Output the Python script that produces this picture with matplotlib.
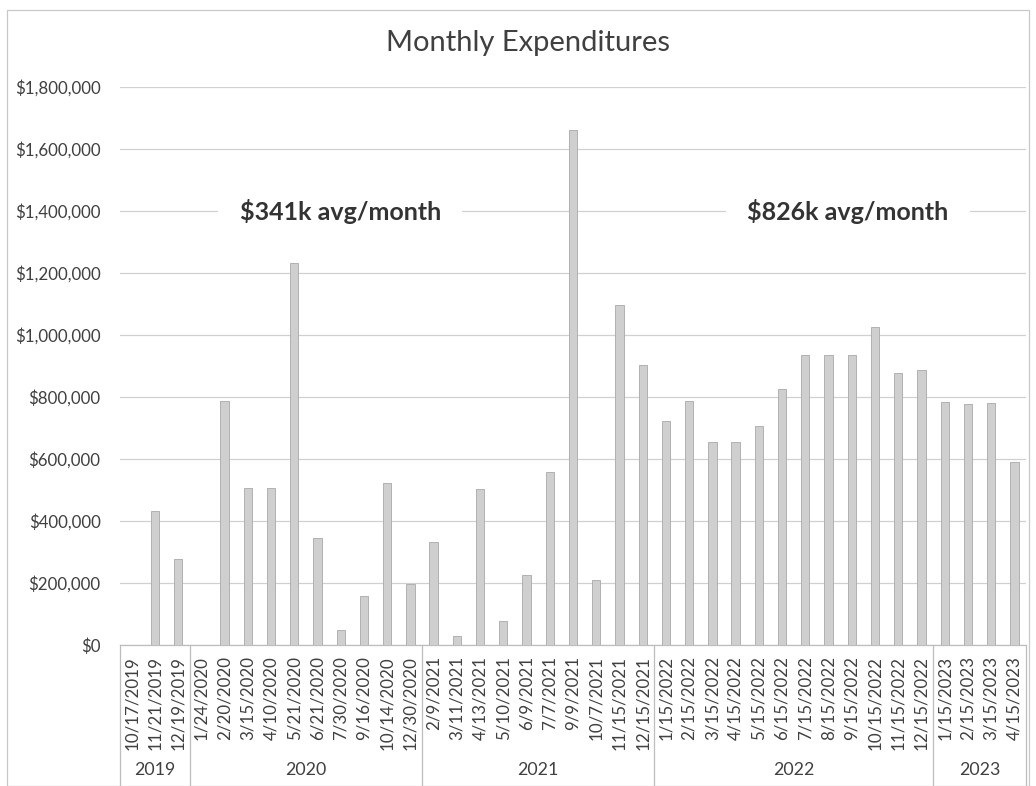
import matplotlib
matplotlib.use("Agg")
import matplotlib.pyplot as plt
from matplotlib.patches import Rectangle

plt.rcParams['font.family'] = ['Lato', 'DejaVu Sans']

dates = ["10/17/2019", "11/21/2019", "12/19/2019",
         "1/24/2020", "2/20/2020", "3/15/2020", "4/10/2020", "5/21/2020", "6/21/2020",
         "7/30/2020", "9/16/2020", "10/14/2020", "12/30/2020",
         "2/9/2021", "3/11/2021", "4/13/2021", "5/10/2021", "6/9/2021", "7/7/2021",
         "9/9/2021", "10/7/2021", "11/15/2021", "12/15/2021",
         "1/15/2022", "2/15/2022", "3/15/2022", "4/15/2022", "5/15/2022", "6/15/2022",
         "7/15/2022", "8/15/2022", "9/15/2022", "10/15/2022", "11/15/2022", "12/15/2022",
         "1/15/2023", "2/15/2023", "3/15/2023", "4/15/2023"]
expenditures = [0, 432000, 278000,
                0, 788000, 507000, 507000, 1231000, 346000,
                49000, 157000, 523000, 198000,
                332000, 28000, 503000, 78000, 225000, 557000,
                1661000, 209000, 1096000, 904000,
                721000, 788000, 655000, 655000, 708000, 826000,
                935000, 935000, 935000, 1027000, 876000, 887000,
                784000, 776000, 780000, 591000]
years = ["2019", "2020", "2021", "2022", "2023"]
year_counts = [3, 10, 10, 12, 4]
annotations = ["$341k avg/month", "$826k avg/month"]

TXT = "#404040"
GRID = "#d0d0d0"

fig = plt.figure(figsize=(10.36, 7.86), dpi=100)
ax = fig.add_axes([120/1036, 1-645/786, 906/1036, 558/786])

x = list(range(len(dates)))
ax.bar(x, expenditures, width=0.36, color="#cfcfcf", edgecolor="#a9a9a9", linewidth=0.6, zorder=3)

ax.set_xlim(-0.5, len(dates) - 0.5)
ax.set_ylim(0, 1800000)
ax.set_yticks(range(0, 1800001, 200000))
ax.set_yticklabels([f"${v:,.0f}" for v in range(0, 1800001, 200000)])
ax.yaxis.grid(True, color=GRID, linewidth=0.9, zorder=0)
ax.set_xticks(x)
ax.set_xticklabels(dates, rotation=90, va="top", ha="center")
ax.tick_params(axis="both", length=0, colors=TXT, labelsize=12.2)
ax.tick_params(axis="y", pad=14)
ax.tick_params(axis="x", pad=8)
for s in ["top", "right", "left"]:
    ax.spines[s].set_visible(False)
ax.spines["bottom"].set_color("#bdbdbd")
ax.spines["bottom"].set_linewidth(0.9)

# year group separators and labels
bounds = [-0.5]
for c in year_counts:
    bounds.append(bounds[-1] + c)
trans = ax.get_xaxis_transform()
for b in bounds:
    ax.plot([b, b], [0, -0.255], transform=trans, color="#bdbdbd", linewidth=0.9, clip_on=False)
for i, yr in enumerate(years):
    ax.text((bounds[i] + bounds[i + 1]) / 2, -0.224, yr, transform=trans,
            ha="center", va="center", fontsize=12.8, color=TXT)

# annotations
for xf, txt in zip([0.243, 0.8035], annotations):
    ax.text(xf, 1400000, txt, transform=ax.get_yaxis_transform(), ha="center", va="center",
            fontsize=18, fontweight="bold", color="#333333", zorder=5,
            bbox=dict(boxstyle="square,pad=0.85", facecolor="white", edgecolor="none"))

fig.text(528/1036, 1-43/786, "Monthly Expenditures", ha="center", va="center",
         fontsize=21, color=TXT)

# outer chart frame
fig.patches.append(Rectangle((7/1036, 0.0), 1022/1036, 1-10/786, transform=fig.transFigure,
                             fill=False, edgecolor="#c8c8c8", linewidth=0.9))

fig.savefig("out.png", dpi=100)
